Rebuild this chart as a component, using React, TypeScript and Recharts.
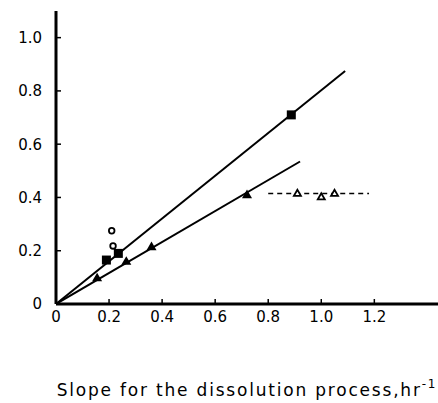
import React from "react";
import { ComposedChart, Scatter, XAxis, YAxis } from "recharts";

const xTicks = [0, 0.2, 0.4, 0.6, 0.8, 1.0, 1.2];
const yTicks = [0, 0.2, 0.4, 0.6, 0.8, 1.0];

const filledSquares = [
  { x: 0.19, y: 0.165 },
  { x: 0.235, y: 0.19 },
  { x: 0.887, y: 0.71 },
];
const openCircles = [
  { x: 0.21, y: 0.275 },
  { x: 0.215, y: 0.218 },
];
const filledTriangles = [
  { x: 0.155, y: 0.098 },
  { x: 0.265, y: 0.16 },
  { x: 0.36, y: 0.215 },
  { x: 0.72, y: 0.41 },
];
const openTriangles = [
  { x: 0.91, y: 0.415 },
  { x: 1.0, y: 0.402 },
  { x: 1.05, y: 0.415 },
];
const upperLine = [
  { x: 0, y: 0 },
  { x: 1.09, y: 0.875 },
];
const lowerLine = [
  { x: 0, y: 0 },
  { x: 0.92, y: 0.535 },
];
const plateauLine = [
  { x: 0.8, y: 0.415 },
  { x: 1.18, y: 0.415 },
];

const FONT = "'DejaVu Sans', Verdana, sans-serif";

const fmt = (v: number) => (v === 0 ? "0" : v.toFixed(1));

const XLabel = (props: any) => {
  const vb = props.viewBox || {};
  const cx = 247;
  const y = vb.y + 92;
  return (
    <text x={cx} y={y} textAnchor="middle" fontFamily={FONT} fontSize={17} fill="#000" letterSpacing={1.8}>
      Slope for the dissolution process,hr
      <tspan fontSize={12} dy={-8}>-1</tspan>
    </text>
  );
};

const noShape = () => <g />;

const SquareFilled = (p: any) => (
  <rect x={p.cx - 4.5} y={p.cy - 4.5} width={9} height={9} fill="#000" />
);
const TriFilled = (p: any) => {
  const s = 10;
  const h = s * 0.866;
  return (
    <polygon
      points={`${p.cx},${p.cy - h * 0.6} ${p.cx - s / 2},${p.cy + h * 0.4} ${p.cx + s / 2},${p.cy + h * 0.4}`}
      fill="#000"
    />
  );
};
const CircleOpen = (p: any) => (
  <circle cx={p.cx} cy={p.cy} r={2.8} fill="#fff" stroke="#000" strokeWidth={1.8} />
);
const TriOpen = (p: any) => {
  const s = 7;
  const h = s * 0.866;
  return (
    <polygon
      points={`${p.cx},${p.cy - h * 0.6} ${p.cx - s / 2},${p.cy + h * 0.4} ${p.cx + s / 2},${p.cy + h * 0.4}`}
      fill="#fff"
      stroke="#000"
      strokeWidth={1.8}
    />
  );
};

export default function App() {
  return (
    <div style={{ position: "absolute", left: 0, top: 0, background: "#fff" }}>
      <ComposedChart
        width={438}
        height={403}
        margin={{ top: 11, right: 0, bottom: 59, left: 16 }}
        style={{ background: "#fff" }}
      >
        <XAxis
          type="number"
          dataKey="x"
          domain={[0, 1.44]}
          ticks={xTicks}
          tickFormatter={fmt}
          allowDataOverflow
          axisLine={{ stroke: "#000", strokeWidth: 3 }}
          tickLine={{ stroke: "#000", strokeWidth: 1.5 }}
          tickSize={-5}
          tickMargin={12}
          height={40}
          tick={{ fill: "#000", fontSize: 15, fontFamily: FONT }}
          label={<XLabel />}
        />
        <YAxis
          type="number"
          dataKey="y"
          domain={[0, 1.1]}
          ticks={yTicks}
          tickFormatter={fmt}
          allowDataOverflow
          axisLine={{ stroke: "#000", strokeWidth: 3 }}
          tickLine={{ stroke: "#000", strokeWidth: 1.5 }}
          tickSize={-5}
          tickMargin={19}
          width={40}
          tick={{ fill: "#000", fontSize: 15, fontFamily: FONT }}
        />
        <Scatter data={upperLine} line={{ stroke: "#000", strokeWidth: 2 }} shape={noShape} isAnimationActive={false} />
        <Scatter data={lowerLine} line={{ stroke: "#000", strokeWidth: 2 }} shape={noShape} isAnimationActive={false} />
        <Scatter
          data={plateauLine}
          line={{ stroke: "#000", strokeWidth: 1.5, strokeDasharray: "5 4" }}
          shape={noShape}
          isAnimationActive={false}
        />
        <Scatter data={filledSquares} shape={SquareFilled} isAnimationActive={false} />
        <Scatter data={filledTriangles} shape={TriFilled} isAnimationActive={false} />
        <Scatter data={openCircles} shape={CircleOpen} isAnimationActive={false} />
        <Scatter data={openTriangles} shape={TriOpen} isAnimationActive={false} />
      </ComposedChart>
    </div>
  );
}
